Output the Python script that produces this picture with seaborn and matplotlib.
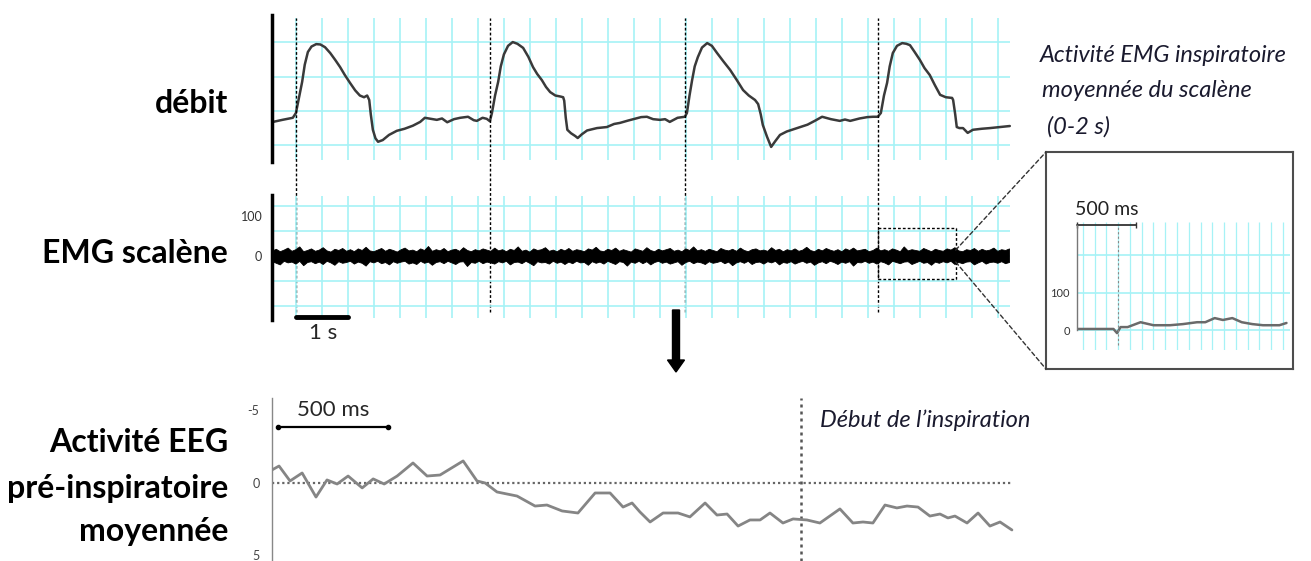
import numpy as np
import matplotlib
matplotlib.use("Agg")
import matplotlib.pyplot as plt
import seaborn as sns
from matplotlib.patches import Rectangle, FancyArrow, ConnectionPatch

# ---- data ----
# respiratory flow (arbitrary units), time in s
flow_t = [0.02, 0.20, 0.40, 0.46, 0.52, 0.58, 0.63, 0.69, 0.76, 0.85, 0.93, 1.02, 1.12, 1.22,
          1.31, 1.40, 1.50, 1.60, 1.69, 1.77, 1.83, 1.87, 1.90, 1.94, 1.99, 2.04, 2.13, 2.25,
          2.40, 2.55, 2.71, 2.85, 2.94, 3.05, 3.17, 3.27, 3.37, 3.50, 3.62, 3.77, 3.88, 3.94,
          4.05, 4.13, 4.19,
          4.23, 4.29, 4.35, 4.40, 4.46, 4.54, 4.63, 4.72, 4.83, 4.93, 5.02, 5.10, 5.19, 5.27,
          5.35, 5.45, 5.55, 5.60, 5.62, 5.65, 5.68, 5.75, 5.83, 5.88, 5.96, 6.06, 6.25, 6.44,
          6.58, 6.69, 6.85, 7.00, 7.10, 7.21, 7.33, 7.46, 7.56, 7.65, 7.80, 7.94,
          7.98, 8.03, 8.08, 8.13, 8.19, 8.27, 8.37, 8.46, 8.56, 8.68, 8.81, 8.94, 9.06, 9.17,
          9.29, 9.35, 9.40, 9.44, 9.52, 9.60, 9.68, 9.77, 9.90, 10.10, 10.30, 10.45, 10.58,
          10.75, 10.92, 11.02, 11.12, 11.30, 11.45, 11.56, 11.65,
          11.71, 11.77, 11.83, 11.88, 11.94, 12.02, 12.12, 12.20, 12.27, 12.36, 12.46, 12.55,
          12.65, 12.75, 12.85, 12.96, 13.08, 13.10, 13.14, 13.17, 13.22, 13.29, 13.38, 13.48,
          13.65, 13.81, 14.00, 14.19]
flow_v = [-0.32, -0.26, -0.20, -0.06, 0.40, 0.85, 1.35, 1.72, 1.88, 1.95, 1.94, 1.86, 1.69, 1.48,
          1.28, 1.05, 0.82, 0.60, 0.45, 0.40, 0.45, 0.32, -0.10, -0.55, -0.80, -0.90, -0.85, -0.70,
          -0.58, -0.52, -0.43, -0.32, -0.20, -0.23, -0.26, -0.22, -0.33, -0.24, -0.20, -0.17, -0.27, -0.29,
          -0.20, -0.23, -0.30,
          -0.06, 0.45, 0.85, 1.30, 1.65, 1.90, 2.01, 1.96, 1.84, 1.58, 1.28, 1.08, 0.90, 0.70,
          0.55, 0.45, 0.42, 0.40, 0.30, -0.20, -0.55, -0.65, -0.73, -0.79, -0.68, -0.57, -0.50, -0.47,
          -0.38, -0.35, -0.28, -0.22, -0.18, -0.17, -0.24, -0.26, -0.24, -0.32, -0.20, -0.17,
          -0.06, 0.45, 0.90, 1.30, 1.57, 1.85, 1.98, 1.90, 1.69, 1.45, 1.20, 0.90, 0.61, 0.45,
          0.32, 0.20, -0.10, -0.41, -0.75, -1.05, -0.88, -0.70, -0.60, -0.50, -0.40, -0.28, -0.17,
          -0.24, -0.29, -0.25, -0.29, -0.22, -0.18, -0.17, -0.17,
          -0.06, 0.45, 0.82, 1.30, 1.69, 1.90, 1.98, 1.96, 1.92, 1.72, 1.49, 1.25,
          1.05, 0.75, 0.47, 0.40, 0.38, 0.32, -0.10, -0.47, -0.50, -0.50, -0.64, -0.55,
          -0.52, -0.50, -0.47, -0.44]
onsets = [0.46, 4.19, 7.94, 11.65]

# scalene EMG envelope (uV), one value every 0.075 s
emg_upper = [14, 18, 12, 16, 21, 13, 17, 24, 12, 15, 19, 13, 16, 22, 14, 11, 18, 15, 20,
             13, 17, 12, 19, 15, 23, 14, 12, 16, 20, 13, 18, 15, 11, 17, 21, 14, 16, 12,
             19, 15, 25, 13, 17, 14, 20, 12, 16, 18, 13, 22, 15, 12, 17, 14, 19, 16, 13,
             21, 14, 17, 12, 18, 15, 24, 13, 16, 11, 19, 15, 17, 22, 13, 16, 12, 18, 14,
             20, 13, 17, 15, 12, 19, 16, 23, 14, 12, 18, 15, 21, 13, 17, 14, 11, 19, 16,
             13, 22, 15, 12, 18, 14, 17, 20, 13, 16, 12, 19, 15, 24, 14, 17, 13, 18, 15,
             12, 20, 16, 14, 18, 13, 21, 15, 12, 17, 19, 14, 16, 13, 22, 15, 18, 12, 17,
             14, 19, 13, 16, 23, 15, 12, 18, 14, 20, 16, 13, 17, 12, 19, 15, 21, 14, 16,
             18, 12, 15, 21, 14, 17, 13, 19, 16, 12, 24, 14, 17, 15, 13, 20, 16, 12, 18,
             15, 13, 19, 16, 22, 14, 12, 17, 15, 20, 13, 18, 14, 16, 21, 13, 17, 15, 19]
emg_lower = [-13, -17, -21, -12, -16, -14, -19, -12, -23, -15, -13, -18, -14, -20, -12, -16, -22, -13, -17,
             -15, -12, -19, -14, -17, -24, -13, -16, -12, -18, -15, -21, -13, -17, -14, -12, -19, -16, -20,
             -12, -17, -14, -22, -15, -13, -18, -12, -16, -20, -14, -13, -25, -15, -17, -12, -18, -14, -16,
             -19, -13, -16, -12, -21, -15, -14, -18, -12, -17, -23, -13, -16, -15, -19, -12, -17, -14, -20,
             -14, -18, -12, -16, -15, -22, -13, -17, -14, -19, -12, -16, -20, -13, -15, -24, -14, -17, -12,
             -18, -13, -21, -15, -12, -17, -14, -19, -16, -13, -22, -15, -12, -18, -14, -16, -20, -13, -17,
             -15, -12, -18, -14, -23, -16, -13, -17, -12, -20, -15, -14, -19, -13, -16, -12, -21, -15, -17,
             -13, -19, -15, -12, -17, -14, -22, -16, -13, -18, -12, -15, -20, -14, -17, -13, -24, -15, -16,
             -12, -17, -14, -19, -13, -16, -21, -12, -15, -18, -14, -13, -20, -16, -12, -17, -15, -22, -14,
             -17, -13, -16, -12, -20, -15, -18, -14, -13, -21, -16, -12, -19, -15, -14, -17, -13, -18, -15]
emg_t = np.round(np.arange(len(emg_upper)) * 0.075, 3)

# averaged inspiratory EMG (inset), time in s relative to onset
inset_t = [-0.36, -0.04, -0.01, 0.02, 0.08, 0.19, 0.30, 0.44, 0.55, 0.67, 0.74, 0.82, 0.89,
           0.97, 1.05, 1.14, 1.23, 1.37, 1.43]
inset_v = [3, 3, -8, 8, 8, 21, 13, 13, 16, 21, 21, 32, 27, 32, 21, 16, 13, 13, 19]

# averaged pre-inspiratory EEG (uV), time in ms relative to onset
eeg_t = [-2405, -2373, -2323, -2268, -2205, -2155, -2109, -2059, -1995, -1945, -1895, -1836,
         -1764, -1700, -1641, -1536, -1473, -1436, -1382, -1291, -1209, -1155, -1086, -1014,
         -936, -868, -809, -768, -732, -686, -627, -559, -505, -436, -382, -336, -286, -232,
         -186, -141, -82, -36, 27, 86, 177, 236, 282, 327, 382, 436, 482, 532, 586, 632, 668,
         700, 755, 805, 859, 905, 959]
eeg_v = [-0.90, -1.17, -0.14, -0.69, 0.97, -0.21, 0.07, -0.48, 0.34, -0.28, 0.07, -0.48,
         -1.38, -0.48, -0.55, -1.52, -0.14, 0.00, 0.62, 0.90, 1.59, 1.52, 1.93, 2.07,
         0.69, 0.69, 1.66, 1.38, 2.00, 2.69, 2.07, 2.07, 2.34, 1.38, 2.21, 2.14, 2.97, 2.55,
         2.55, 2.07, 2.76, 2.48, 2.55, 2.76, 1.79, 2.76, 2.69, 2.76, 1.52, 1.72, 1.59, 1.66, 2.28, 2.14, 2.41,
         2.28, 2.76, 2.07, 2.97, 2.69, 3.24]

sns.set_theme(style="white")
plt.rcParams["font.family"] = ["Lato", "DejaVu Sans"]

W, H = 1311, 561
fig = plt.figure(figsize=(W / 100, H / 100), dpi=100)
CYAN = "#a6f2f6"


def px_axes(x0, y0, x1, y1):
    ax = fig.add_axes([x0 / W, 1 - y1 / H, (x1 - x0) / W, (y1 - y0) / H])
    ax.set_facecolor("none")
    return ax


def strip(ax):
    for s in ["top", "right", "bottom"]:
        ax.spines[s].set_visible(False)
    ax.set_xticks([])
    ax.tick_params(axis="y", length=0)


grid_t = np.arange(onsets[0], 14.1, 0.5)

# ---- flow panel ----
ax1 = px_axes(272, 15, 1015, 162)
ax1.set_xlim(0, 14.29)
ax1.set_ylim(-1.49, 2.80)
ax1.vlines(grid_t, -1.43, 2.71, color=CYAN, lw=1.2, zorder=0)
ax1.hlines([-1, 0, 1, 2], 0, 14.2, color=CYAN, lw=1.2, zorder=0)
sns.lineplot(x=flow_t, y=flow_v, ax=ax1, color="#3a3a3a", lw=1.8, estimator=None, sort=False,
             solid_joinstyle="round")
strip(ax1)
ax1.set_yticks([])
ax1.spines["left"].set_linewidth(2.5)
ax1.spines["left"].set_color("black")
for t in onsets:
    ax1.axvline(t, ymin=-1.02, ymax=0.98, color="black", ls=(0, (2, 1.5)), lw=1, clip_on=False, zorder=5)

# ---- EMG panel ----
ax2 = px_axes(272, 195, 1015, 320)
ax2.set_xlim(0, 14.29)
ax2.set_ylim(-160, 152.5)
ax2.vlines(grid_t, -155, 150, color=CYAN, lw=1.2, zorder=0)
ax2.hlines([125, 62.5, 0, -62.5, -125], 0, 14.2, color=CYAN, lw=1.2, zorder=0)
ax2.fill_between(emg_t, emg_lower, emg_upper, color="black", ec="black", lw=0.6, zorder=3)
strip(ax2)
ax2.set_yticks([0, 100])
ax2.set_yticklabels(["0", "100"], fontsize=9, color="#333333")
ax2.tick_params(axis="y", pad=7)
ax2.spines["left"].set_linewidth(2.5)
ax2.spines["left"].set_color("black")
ax2.add_patch(Rectangle((onsets[3], -57.5), 1.5, 127.5, fill=False, ls=(0, (2, 1.5)),
                        lw=1, ec="black", zorder=6))
ax2.plot([onsets[0], onsets[0] + 1], [-152, -152], color="black", lw=3.5,
         solid_capstyle="round", clip_on=False, zorder=6)
ax2.text(onsets[0] + 0.52, -192, "1 s", ha="center", va="center", fontsize=16)

# ---- inset: averaged scalene EMG ----
box = px_axes(1046, 152, 1293, 369)
box.set_xticks([])
box.set_yticks([])
for s in box.spines.values():
    s.set_color("#4d4d4d")
    s.set_linewidth(1.5)

ax4 = px_axes(1077, 222, 1290, 350)
ax4.set_xlim(-0.35, 1.46)
ax4.set_ylim(-53, 288)
ax4.vlines(np.arange(-0.3, 1.45, 0.1), -53, 288, color=CYAN, lw=0.9, zorder=0)
ax4.hlines([0, 100, 200], -0.35, 1.46, color=CYAN, lw=1.2, zorder=0)
sns.lineplot(x=inset_t, y=inset_v, ax=ax4, color="#6a6a6a", lw=1.8, estimator=None, sort=False)
ax4.axvline(0, ymin=0.04, ymax=0.97, color="#888888", ls=(0, (2, 2)), lw=0.8)
for s in ["top", "right", "bottom"]:
    ax4.spines[s].set_visible(False)
ax4.spines["left"].set_bounds(0, 280)
ax4.spines["left"].set_color("#777777")
ax4.spines["left"].set_linewidth(1)
ax4.set_xticks([])
ax4.set_yticks([0, 100, 200])
ax4.set_yticklabels(["0", "100", ""], fontsize=8, color="#333333")
ax4.tick_params(axis="y", length=3, width=0.8, color="#777777", pad=2)
ax4.plot([-0.35, 0.15], [280, 280], color="#333333", lw=1.3, marker="|", ms=5, clip_on=False)
ax4.text(-0.1, 322, "500 ms", ha="center", va="center", fontsize=14, color="#222222")

for ya, yb in [(15, (0, 1)), (-15, (0, 0))]:
    con = ConnectionPatch(xyA=(13.15, ya), coordsA=ax2.transData, xyB=yb, coordsB=box.transAxes,
                          ls=(0, (3, 2)), color="#333333", lw=1)
    fig.add_artist(con)

# ---- EEG panel ----
ax3 = px_axes(272, 398, 1015, 561)
ax3.set_xlim(-2405, 973)
ax3.set_ylim(5.38, -5.86)
ax3.hlines(0, -2405, 962, color="#666666", ls=(0, (1, 1.3)), lw=1.6, zorder=2)
ax3.axvline(0, color="#555555", ls=(0, (1.2, 1.6)), lw=1.8, zorder=2)
sns.lineplot(x=eeg_t, y=eeg_v, ax=ax3, color="#858585", lw=2, estimator=None, sort=False, zorder=3,
             solid_joinstyle="round")
for s in ["top", "right", "bottom"]:
    ax3.spines[s].set_visible(False)
ax3.spines["left"].set_color("#888888")
ax3.spines["left"].set_linewidth(1)
ax3.set_xticks([])
ax3.set_yticks([-5, 0, 5])
ax3.set_yticklabels(["-5", "0", "5"], fontsize=9, color="#444444")
ax3.tick_params(axis="y", length=3, width=0.8, color="#777777", pad=6)
ax3.plot([-2378, -1877], [-3.86, -3.86], color="black", lw=1.6, marker="o", ms=3, clip_on=False)
ax3.text(-2128, -5.0, "500 ms", ha="center", va="center", fontsize=16)
ax3.text(86, -4.34, "Début de l\u2019inspiration", ha="left", va="center", fontsize=17,
         style="italic", color="#1a1a2e")

# ---- labels, arrow (overlay in pixel coordinates) ----
ov = fig.add_axes([0, 0, 1, 1])
ov.set_xlim(0, W)
ov.set_ylim(H, 0)
ov.axis("off")
lab = dict(ha="right", va="center", fontsize=23, fontweight="bold", color="black")
ov.text(228, 103, "débit", **lab)
ov.text(228, 253, "EMG scalène", **lab)
ov.text(228, 442, "Activité EEG", **lab)
ov.text(228, 488, "pré-inspiratoire", **lab)
ov.text(228, 532, "moyennée", **lab)
it = dict(ha="left", va="center", fontsize=17, style="italic", color="#1a1a2e")
ov.text(1040, 55, "Activité EMG inspiratoire", **it)
ov.text(1042, 90, "moyennée du scalène", **it)
ov.text(1047, 127, "(0-2 s)", **it)
ov.add_patch(FancyArrow(676, 310, 0, 62, width=7, head_width=17, head_length=12,
                        length_includes_head=True, color="black"))

fig.savefig("out.png", dpi=100)
